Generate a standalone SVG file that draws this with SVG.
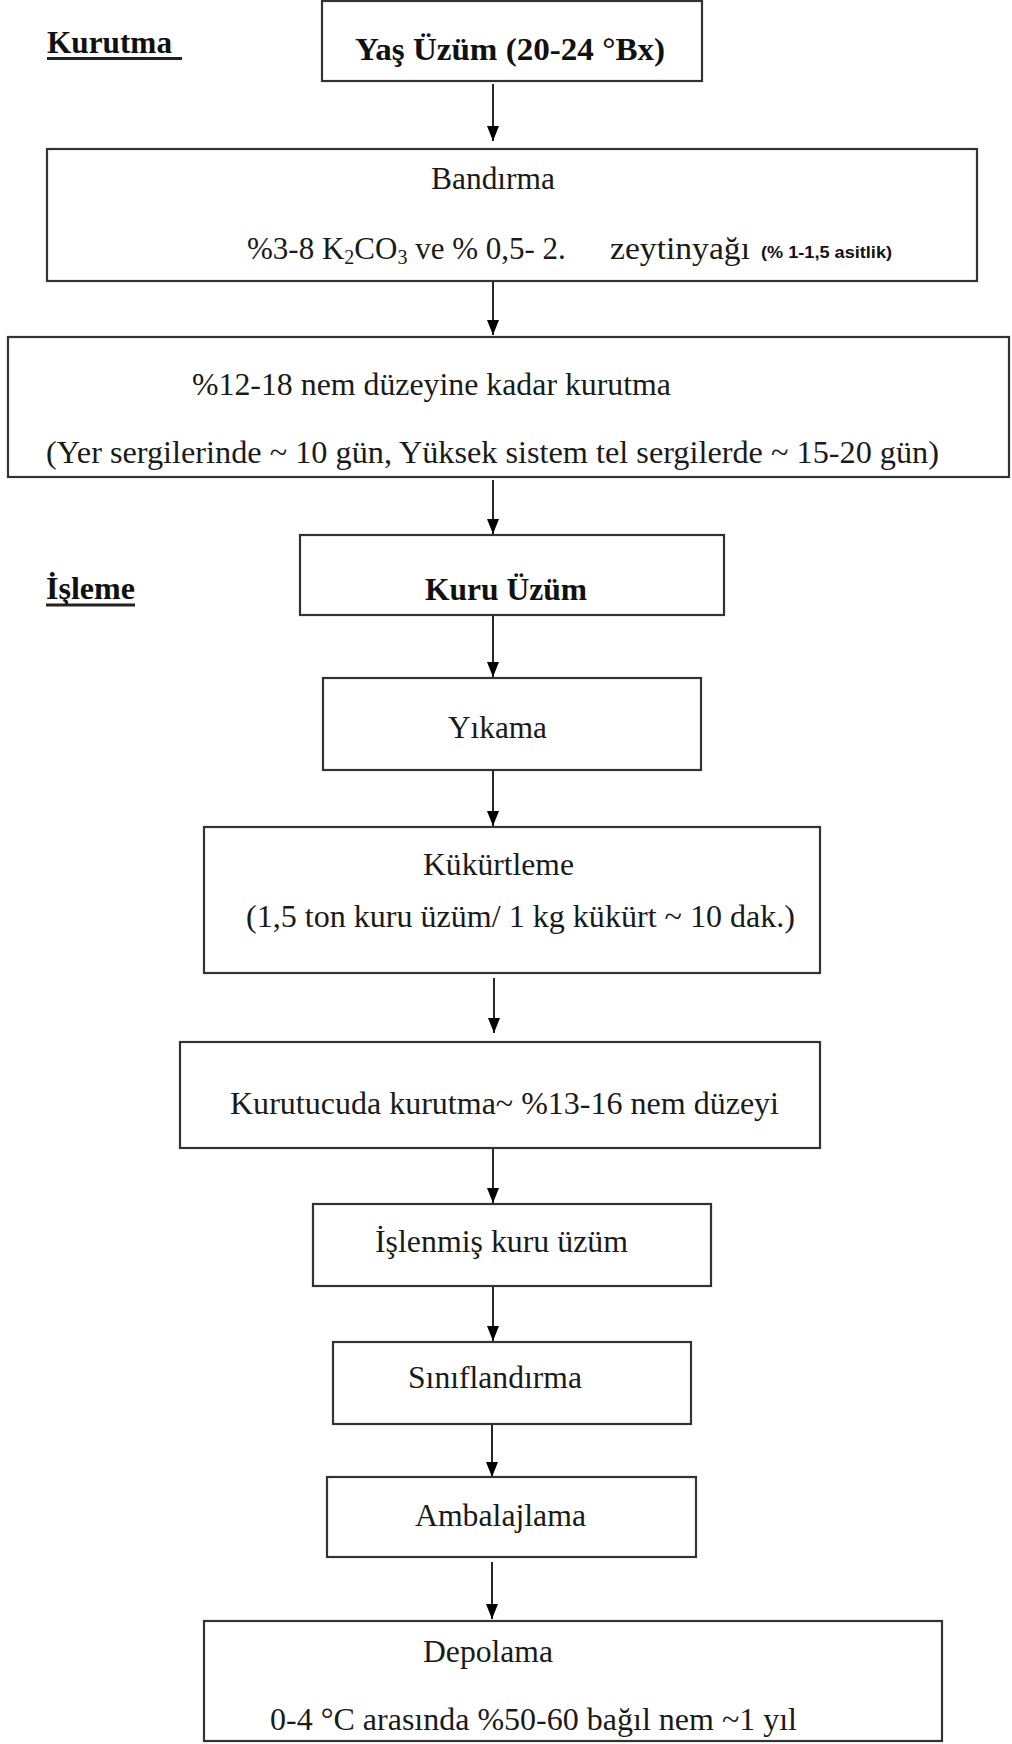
<svg xmlns="http://www.w3.org/2000/svg" width="1012" height="1744" viewBox="0 0 1012 1744">
<defs>
<marker id="ah" markerUnits="userSpaceOnUse" viewBox="0 0 15 12" refX="15" refY="6" markerWidth="15" markerHeight="12" orient="auto">
<path d="M0,0 L15,6 L0,12 z" fill="#000"/>
</marker>
</defs>
<style>
.box{fill:#fff;stroke:#333;stroke-width:2.2}
.t{font-family:"Liberation Serif","Times New Roman",serif;font-size:31px;fill:#1a1a1a}
.h{font-family:"Liberation Serif","Times New Roman",serif;font-size:32px;font-weight:bold;fill:#111}
.s{font-family:"Liberation Sans",Arial,sans-serif;font-size:17px;font-weight:bold;fill:#111}
.ul{stroke:#222;stroke-width:3}
.c{stroke:#000;stroke-width:1.7;fill:none;marker-end:url(#ah)}
</style>
<rect width="1012" height="1744" fill="#fff"/>
<g id="connectors">
<line class="c" x1="493" y1="84" x2="493" y2="141"/>
<line class="c" x1="493" y1="282" x2="493" y2="335"/>
<line class="c" x1="493" y1="480" x2="493" y2="534"/>
<line class="c" x1="493" y1="616" x2="493" y2="677"/>
<line class="c" x1="493" y1="771" x2="493" y2="826"/>
<line class="c" x1="494" y1="978" x2="494" y2="1033"/>
<line class="c" x1="493" y1="1149" x2="493" y2="1203"/>
<line class="c" x1="493" y1="1287" x2="493" y2="1341"/>
<line class="c" x1="492" y1="1425" x2="492" y2="1477"/>
<line class="c" x1="492" y1="1562" x2="492" y2="1619"/>
</g>
<g id="label-kurutma">
<text class="h" x="47" y="53" textLength="125" lengthAdjust="spacingAndGlyphs">Kurutma</text>
<line class="ul" x1="47" y1="58.5" x2="182" y2="58.5"/>
</g>
<g id="node-yas-uzum">
<rect class="box" x="322" y="1" width="380" height="80"/>
<text class="h" x="355" y="60" textLength="310" lengthAdjust="spacingAndGlyphs">Yaş Üzüm (20-24  °Bx)</text>
</g>
<g id="node-bandirma">
<rect class="box" x="47" y="149" width="930" height="132"/>
<text class="t" x="431" y="189" textLength="124" lengthAdjust="spacingAndGlyphs">Bandırma</text>
<text class="t" x="247" y="259">%3-8 K<tspan font-size="20" dy="5">2</tspan><tspan dy="-5">CO</tspan><tspan font-size="20" dy="5">3</tspan><tspan dy="-5">  ve % 0,5- 2.</tspan></text>
<text class="t" x="610" y="259" textLength="140" lengthAdjust="spacingAndGlyphs">zeytinyağı</text>
<text class="s" x="761" y="258" textLength="131" lengthAdjust="spacingAndGlyphs">(% 1-1,5 asitlik)</text>
</g>
<g id="node-kurutma">
<rect class="box" x="8" y="337" width="1001" height="140"/>
<text class="t" x="192" y="395" textLength="479" lengthAdjust="spacingAndGlyphs">%12-18 nem düzeyine kadar kurutma</text>
<text class="t" x="46" y="463" textLength="893" lengthAdjust="spacingAndGlyphs">(Yer sergilerinde ~ 10 gün, Yüksek sistem tel sergilerde ~ 15-20 gün)</text>
</g>
<g id="label-isleme">
<text class="h" x="46" y="599" textLength="89" lengthAdjust="spacingAndGlyphs">İşleme</text>
<line class="ul" x1="46" y1="605" x2="135" y2="605"/>
</g>
<g id="node-kuru-uzum">
<rect class="box" x="300" y="535" width="424" height="80"/>
<text class="h" x="425" y="600" textLength="162" lengthAdjust="spacingAndGlyphs">Kuru Üzüm</text>
</g>
<g id="node-yikama">
<rect class="box" x="323" y="678" width="378" height="92"/>
<text class="t" x="448" y="738" textLength="99" lengthAdjust="spacingAndGlyphs">Yıkama</text>
</g>
<g id="node-kukurtleme">
<rect class="box" x="204" y="827" width="616" height="146"/>
<text class="t" x="423" y="875" textLength="151" lengthAdjust="spacingAndGlyphs">Kükürtleme</text>
<text class="t" x="246" y="927" textLength="549" lengthAdjust="spacingAndGlyphs">(1,5 ton kuru üzüm/ 1 kg kükürt ~ 10 dak.)</text>
</g>
<g id="node-kurutucu">
<rect class="box" x="180" y="1042" width="640" height="106"/>
<text class="t" x="230" y="1114" textLength="549" lengthAdjust="spacingAndGlyphs">Kurutucuda kurutma~ %13-16 nem düzeyi</text>
</g>
<g id="node-islenmis">
<rect class="box" x="313" y="1204" width="398" height="82"/>
<text class="t" x="375" y="1252" textLength="253" lengthAdjust="spacingAndGlyphs">İşlenmiş kuru üzüm</text>
</g>
<g id="node-siniflandirma">
<rect class="box" x="333" y="1342" width="358" height="82"/>
<text class="t" x="408" y="1388" textLength="174" lengthAdjust="spacingAndGlyphs">Sınıflandırma</text>
</g>
<g id="node-ambalajlama">
<rect class="box" x="327" y="1477" width="369" height="80"/>
<text class="t" x="415" y="1526" textLength="171" lengthAdjust="spacingAndGlyphs">Ambalajlama</text>
</g>
<g id="node-depolama">
<rect class="box" x="204" y="1621" width="738" height="120"/>
<text class="t" x="423" y="1662" textLength="130" lengthAdjust="spacingAndGlyphs">Depolama</text>
<text class="t" x="270" y="1730" textLength="527" lengthAdjust="spacingAndGlyphs">0-4 °C arasında %50-60 bağıl nem ~1 yıl</text>
</g>
</svg>
